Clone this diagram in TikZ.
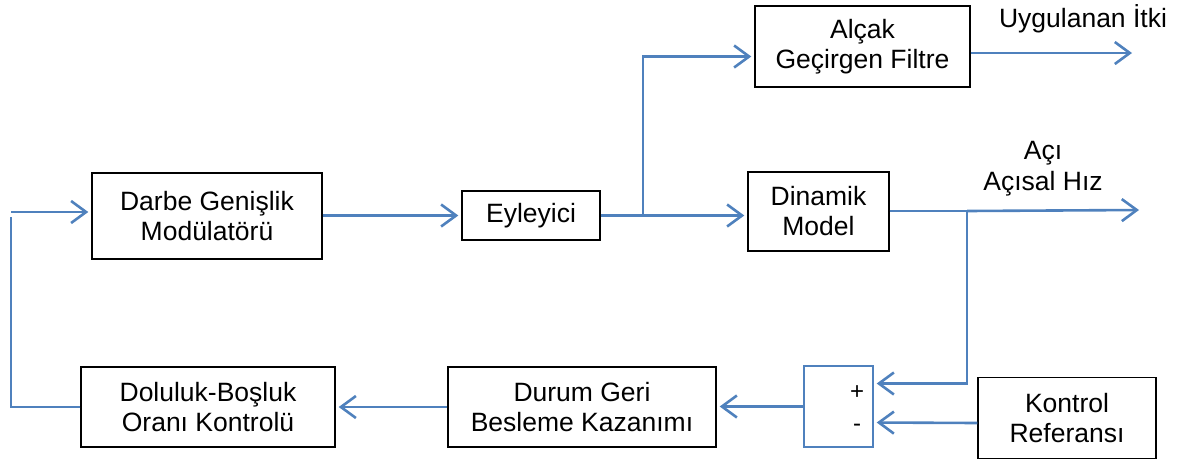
\documentclass[tikz,border=0pt]{standalone}
\usepackage{fontspec}
\setmainfont{Liberation Sans}
\usepackage{tikz}
\usetikzlibrary{arrows.meta}
\usetikzlibrary{positioning}
\usetikzlibrary{calc}
\definecolor{linkblue}{HTML}{4F81BD}

\begin{document}
\begin{tikzpicture}[x=1pt, y=-1pt,
  block/.style={draw, line width=1.4pt, align=center, inner sep=0pt, font=\fontsize{26.5}{30}\selectfont},
  link/.style={draw=linkblue, line width=2.6pt, shorten >=3pt, -{Straight Barb[length=15pt,width=22pt]}},
  thinlink/.style={draw=linkblue, line width=1.7pt},
  sigtext/.style={align=center, inner sep=0pt, font=\fontsize{26.5}{31}\selectfont},
  sign/.style={inner sep=0pt, font=\fontsize{24}{26}\selectfont}]

\useasboundingbox (0,0) rectangle (1177,459);

% forward path
\node[block, minimum width=230pt, minimum height=86pt] (dgm) at (207,216) {Darbe Genişlik\\Modülatörü};
\node[block, minimum width=138pt, minimum height=49pt] (eyl) at (531,215.5) {Eyleyici};
\node[block, minimum width=215pt, minimum height=81pt] (lpf) at (862.5,46.5) {Alçak\\Geçirgen Filtre};
\node[block, minimum width=141pt, minimum height=79pt] (dyn) at (818.5,211.5) {Dinamik\\Model};

% feedback path
\node[block, minimum width=254pt, minimum height=80pt] (dbo) at (208,407) {Doluluk-Boşluk\\Oranı Kontrolü};
\node[block, minimum width=268pt, minimum height=80pt] (dgb) at (582,407) {Durum Geri\\Besleme Kazanımı};
\node[draw=linkblue, line width=1.4pt, minimum width=69pt, minimum height=81pt, inner sep=0pt] (sum) at (838.5,406.5) {};
\node[sign] (plus) at (857,393) {+};
\node[sign] (minus) at (857,428) {-};
\node[block, minimum width=178pt, minimum height=81pt] (kref) at (1067,418) {Kontrol\\Referansı};

% outputs
\node[sigtext, anchor=base] (thrustlbl) at (1083,27) {Uygulanan İtki};
\node[sigtext] (anglelbl) at (1043,169) {Açı\\Açısal Hız};

\coordinate (split) at (643,215);
\coordinate (tap) at (967,211);
\coordinate (thrust) at (1132,53);
\coordinate (angle) at (1139,210);
\coordinate (intop) at (11,212);
\coordinate (inturn) at (11,217);
\coordinate (inbot) at (11,407);

\draw[link] (dgm.east |- eyl.west) -- (eyl.west);
\draw[link] (eyl.east) -- (eyl.east -| dyn.west);
\draw[link] (split) |- ($(lpf.west)+(0,10)$);
\draw[link, shorten >=0pt] (lpf.east |- thrust) -- (thrust);
\draw[thinlink] (dyn.east |- tap) -- (tap);
\draw[link, shorten >=0pt] (tap) -- (angle);
\draw[link] (tap) |- ($(sum.east)+(0,-23)$);
\draw[link] (kref.west |- minus) ++(0,-5) -- ($(sum.east)+(0,16)$);
\draw[link] (sum.west) -- (sum.west -| dgb.east);
\draw[link] (dgb.west) -- (dbo.east);
\draw[thinlink] (dbo.west) -- (inbot) -- (inturn);
\draw[link] (intop) -- (intop -| dgm.west);

\end{tikzpicture}
\end{document}
